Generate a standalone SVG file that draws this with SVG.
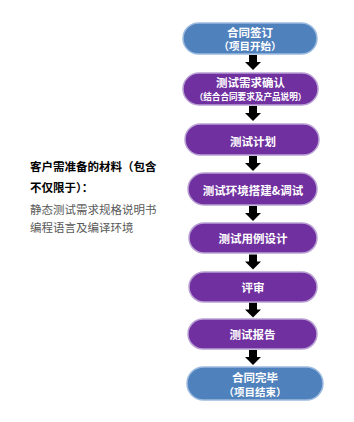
<svg xmlns="http://www.w3.org/2000/svg" width="354" height="422" viewBox="0 0 354 422">
<style>
.blue{fill:#4F81BD;stroke:#9DBBE0;stroke-width:1.5}
.purple{fill:#7030A0;stroke:#B9A0D3;stroke-width:1.5}
.lbl{font-family:"Noto Sans CJK SC","Liberation Serif",serif;font-weight:bold;fill:#FFFFFF;text-anchor:middle;dominant-baseline:central}
.side{font-family:"Noto Sans CJK SC",sans-serif;font-size:11.5px}
.arr{fill:#000000}
</style>
<defs>
<path id="arrow" d="M-4,0 H4 V7 H8 L0,15 L-8,7 H-4 Z"/>
</defs>
<rect width="354" height="422" fill="#FFFFFF"/>
<g id="connectors" class="arr">
<use href="#arrow" x="253" y="55"/>
<use href="#arrow" x="253" y="106"/>
<use href="#arrow" x="253" y="156"/>
<use href="#arrow" x="253" y="206"/>
<use href="#arrow" x="253" y="254.5"/>
<use href="#arrow" x="253" y="302.5"/>
<use href="#arrow" x="253" y="350"/>
</g>
<g id="n1"><rect class="blue" x="183" y="23" width="134" height="31" rx="15.5"/>
<text class="lbl" x="250" y="31.5" font-size="11.5">合同签订</text>
<text class="lbl" x="250" y="45.5" font-size="10.5">（项目开始）</text></g>
<g id="n2"><rect class="purple" x="183" y="73" width="135" height="32" rx="16"/>
<text class="lbl" x="250.5" y="82" font-size="11.5">测试需求确认</text>
<text class="lbl" x="250.5" y="95.5" font-size="8.6">（结合合同要求及产品说明）</text></g>
<g id="n3"><rect class="purple" x="185" y="124" width="134" height="31" rx="15.5"/>
<text class="lbl" x="253" y="140.5" font-size="11.5">测试计划</text></g>
<g id="n4"><rect class="purple" x="188" y="173" width="129" height="32" rx="16"/>
<text class="lbl" x="253" y="190" font-size="11.5">测试环境搭建&amp;调试</text></g>
<g id="n5"><rect class="purple" x="189" y="223" width="128" height="30" rx="15"/>
<text class="lbl" x="253" y="238" font-size="11.5">测试用例设计</text></g>
<g id="n6"><rect class="purple" x="189" y="272" width="128" height="30" rx="15"/>
<text class="lbl" x="253" y="287" font-size="11.5">评审</text></g>
<g id="n7"><rect class="purple" x="188" y="319" width="129" height="30" rx="15"/>
<text class="lbl" x="252.5" y="334" font-size="11.5">测试报告</text></g>
<g id="n8"><rect class="blue" x="187" y="367" width="136" height="33" rx="16.5"/>
<text class="lbl" x="255" y="376.5" font-size="11.5">合同完毕</text>
<text class="lbl" x="255" y="391" font-size="10.5">（项目结束）</text></g>
<g id="notes">
<text class="side" x="30" y="171" font-weight="bold" fill="#000000">客户需准备的材料（包含</text>
<text class="side" x="30" y="192" font-weight="bold" fill="#000000">不仅限于）：</text>
<text class="side" x="30" y="214" fill="#595959">静态测试需求规格说明书</text>
<text class="side" x="30" y="232" fill="#595959">编程语言及编译环境</text>
</g>
</svg>
